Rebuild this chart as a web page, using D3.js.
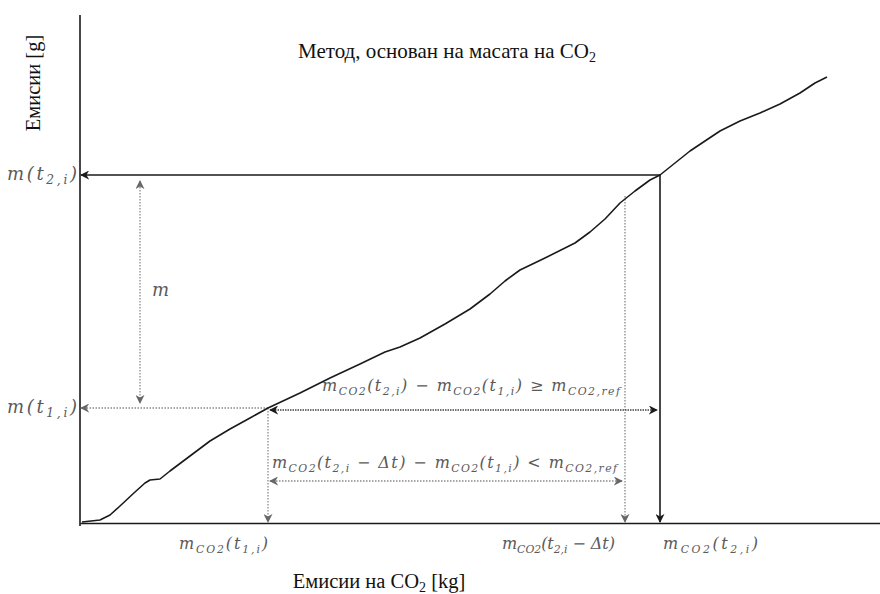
<!DOCTYPE html>
<html>
<head>
<meta charset="utf-8">
<script src="https://cdn.jsdelivr.net/npm/d3@7"></script>
<style>
  html, body { margin: 0; padding: 0; background: #fff; }
  svg { display: block; }
  .serif { font-family: "Liberation Serif", "DejaVu Serif", serif; }
  .math { font-family: "DejaVu Serif", "Liberation Serif", serif; font-style: italic; fill: #5a5a5a; }
</style>
</head>
<body>
<svg id="chart" width="880" height="594"></svg>
<script>
// ---- data (arbitrary units: x = CO2 emissions, y = pollutant emissions) ----
const curveX = [2, 20, 30, 40, 55, 65, 70, 80, 90, 110, 130, 150, 170, 188, 220, 250, 280, 305, 320, 340, 365, 390, 410, 425, 440, 465, 495, 510, 525, 540, 555, 570, 580, 595, 610, 625, 640, 660, 680, 700, 720, 735, 747];
const curveY = [1, 3, 8, 17, 31, 40, 43, 44, 52, 67, 82, 94, 105, 115, 130, 145, 159, 171, 176, 185, 199, 214, 229, 242, 253, 265, 280, 291, 304, 320, 332, 343, 348, 360, 372, 382, 392, 402, 410, 419, 430, 440, 446];
const markT = { t1: 188, t2dt: 545, t2: 580 };      // x positions of time markers
const markM = { mT1: 115, mT2: 348, mT2dt: 327 };   // y values at those markers
const titleText = "Метод, основан на масата на CO";
const yLabel = "Емисии [g]";
const xLabel = "Емисии на CO";

// ---- layout ----
const svg = d3.select("#chart");
const x = d3.scaleLinear().domain([0, 800]).range([80, 880]);
const y = d3.scaleLinear().domain([0, 508]).range([523, 15]);

const dark = "#1a1a1a", grey = "#8a8a8a";

// markers
const defs = svg.append("defs");
function marker(id, color) {
  defs.append("marker").attr("id", id).attr("viewBox", "0 0 10 10")
    .attr("refX", 9).attr("refY", 5).attr("markerWidth", 9).attr("markerHeight", 9)
    .attr("markerUnits", "userSpaceOnUse").attr("orient", "auto-start-reverse")
    .append("path").attr("d", "M0,0 L10,5 L0,10 L3,5 Z").attr("fill", color);
}
marker("aDark", dark);
marker("aGrey", "#666");

// axes (no ticks)
svg.append("g").attr("transform", `translate(${x(0)},0)`)
  .call(d3.axisLeft(y).tickValues([]).tickSizeOuter(0))
  .call(g => g.select(".domain").attr("stroke", dark).attr("stroke-width", 1.6).attr("d", `M0,${y(0)+3}V${y(508)}`));
svg.append("g").attr("transform", `translate(0,${y(0)})`)
  .call(d3.axisBottom(x).tickValues([]).tickSizeOuter(0))
  .call(g => g.select(".domain").attr("stroke", dark).attr("stroke-width", 1.6));

function seg(x1, y1, x2, y2, opts) {
  const l = svg.append("line").attr("x1", x1).attr("y1", y1).attr("x2", x2).attr("y2", y2)
    .attr("stroke", opts.color).attr("stroke-width", opts.w || 1.3);
  if (opts.dash) l.attr("stroke-dasharray", opts.dash);
  if (opts.end) l.attr("marker-end", `url(#${opts.end})`);
  if (opts.start) l.attr("marker-start", `url(#${opts.start})`);
  return l;
}

// m(t2,i) horizontal (solid) and m(t1,i) horizontal (dotted)
seg(x(markT.t2), y(markM.mT2), x(0) + 1, y(markM.mT2), { color: dark, w: 1.6, end: "aDark" });
seg(x(markT.t1), y(markM.mT1), x(0) + 1, y(markM.mT1), { color: grey, w: 1.3, dash: "1.5,1.5", end: "aGrey" });

// verticals down to x axis
seg(x(markT.t1), y(markM.mT1), x(markT.t1), y(0) - 1, { color: grey, dash: "1.5,1.5", end: "aGrey" });
seg(x(markT.t2dt), y(markM.mT2dt), x(markT.t2dt), y(0) - 1, { color: grey, dash: "1.5,1.5", end: "aGrey" });
seg(x(markT.t2), y(markM.mT2), x(markT.t2), y(0) - 1, { color: dark, w: 1.6, end: "aDark" });

// m double arrow
seg(x(60), y(markM.mT2) + 6, x(60), y(markM.mT1) - 5, { color: grey, dash: "1.5,1.5", start: "aGrey", end: "aGrey" });

// formula arrows
const f1y = y(markM.mT1) + 2;
seg(x(markT.t1) + 2, f1y, x(markT.t2) - 3, f1y, { color: "#444", w: 1.5, dash: "1.5,1", start: "aDark", end: "aDark" });
const f2y = 481;
seg(x(markT.t1) + 2, f2y, x(markT.t2dt) - 3, f2y, { color: grey, dash: "1.5,1.5", start: "aGrey", end: "aGrey" });

// emission curve
const pts = curveX.map((d, i) => [d, curveY[i]]);
svg.append("path").datum(pts)
  .attr("fill", "none").attr("stroke", dark).attr("stroke-width", 1.6).attr("stroke-linejoin", "round")
  .attr("d", d3.line().x(d => x(d[0])).y(d => y(d[1])));

// ---- text ----
const t = svg.append("text").attr("class", "serif").attr("x", 447).attr("y", 58)
  .attr("text-anchor", "middle").attr("font-size", 21).attr("fill", "#111");
t.append("tspan").text(titleText);
t.append("tspan").attr("font-size", 14).attr("dy", 4).text("2");

svg.append("text").attr("class", "serif").attr("transform", "translate(40,83) rotate(-90)")
  .attr("text-anchor", "middle").attr("font-size", 20.5).attr("fill", "#111").text(yLabel);

const xl = svg.append("text").attr("class", "serif").attr("x", 379).attr("y", 588)
  .attr("text-anchor", "middle").attr("font-size", 20.5).attr("fill", "#111");
xl.append("tspan").text(xLabel);
xl.append("tspan").attr("font-size", 14).attr("dy", 4).text("2");
xl.append("tspan").attr("dy", -4).text(" [kg]");

// math labels: parts = [text, isSub]; width fitted to the reference span
function mathLabel(px, py, anchor, parts, size, width) {
  const el = svg.append("text").attr("class", "math").attr("x", px).attr("y", py)
    .attr("text-anchor", anchor).attr("font-size", size);
  let sub = false;
  parts.forEach(([s, isSub]) => {
    const ts = el.append("tspan").text(s);
    if (isSub && !sub) { ts.attr("dy", 4).attr("font-size", size * 0.68); sub = true; }
    else if (!isSub && sub) { ts.attr("dy", -4); sub = false; }
    else if (isSub) ts.attr("font-size", size * 0.68);
  });
  if (width) el.attr("textLength", width).attr("lengthAdjust", "spacing");
  return el;
}
mathLabel(77, y(markM.mT2) + 5, "end", [["m(t", false], ["2,i", true], [")", false]], 18, 70);
mathLabel(77, y(markM.mT1) + 5, "end", [["m(t", false], ["1,i", true], [")", false]], 18, 70);
mathLabel(x(60) + 12, 296, "start", [["m", false]], 18);

mathLabel(x(markT.t1), 549, "end", [["m", false], ["CO2", true], ["(t", false], ["1,i", true], [")", false]], 16, 89);
mathLabel(x(markT.t2dt) - 10, 549, "end", [["m", false], ["CO2", true], ["(t", false], ["2,i", true], [" − Δt)", false]], 16, 113);
mathLabel(x(markT.t2) + 3, 549, "start", [["m", false], ["CO2", true], ["(t", false], ["2,i", true], [")", false]], 16, 95);

mathLabel(322, 391, "start", [["m", false], ["CO2", true], ["(t", false], ["2,i", true], [") − m", false], ["CO2", true], ["(t", false], ["1,i", true], [") ≥ m", false], ["CO2,ref", true]], 16, 298);
mathLabel(272, 468, "start", [["m", false], ["CO2", true], ["(t", false], ["2,i", true], [" − Δt) − m", false], ["CO2", true], ["(t", false], ["1,i", true], [") < m", false], ["CO2,ref", true]], 16, 345);
</script>
</body>
</html>
